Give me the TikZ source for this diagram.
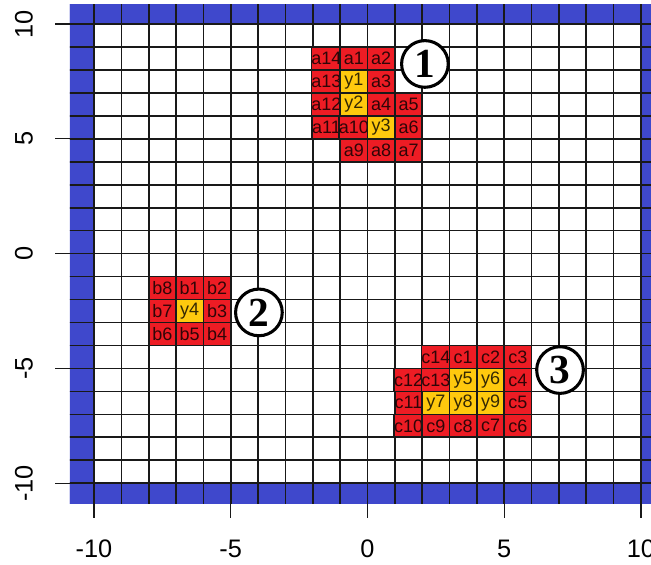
\documentclass[tikz,border=0pt]{standalone}
\usepackage{fontspec}
\setmainfont{Liberation Sans}
\newfontfamily\zonefont{Liberation Serif}
\usepackage{tikz}
\usetikzlibrary{positioning}
\definecolor{mapblue}{HTML}{3F48CC}
\definecolor{mapred}{HTML}{ED1C24}
\definecolor{mapgold}{HTML}{FFC90E}
\tikzset{
  gridline/.style={draw=black!90,line width=1.25pt},
  wall/.style={fill=mapblue},
  cell/.style={draw=black!90,line width=1.25pt,fill=mapred,inner sep=0pt,minimum width=20.51pt,minimum height=17.22pt,font=\fontsize{13.5}{13.5}\selectfont,text=black,text opacity=0.8},
  goal/.style={cell,fill=mapgold},
  zone/.style={circle,draw=black,line width=2.3pt,fill=white,inner sep=0pt,minimum size=35pt,font=\zonefont\bfseries\fontsize{31}{31}\selectfont},
  axtick/.style={draw=black!90,line width=0.9pt},
  ticklab/.style={inner sep=0pt,font=\fontsize{19}{19}\selectfont},
}
\begin{document}
\begin{tikzpicture}[x=20.51pt,y=17.22pt]
  \useasboundingbox (-13.437,-13.56) rectangle (10.366,11.045);
  % map area
  \begin{scope}
    \clip (-10.88,-10.87) rectangle (10.88,10.83);
    \foreach \k in {-11,...,10} {
      \fill[wall] (-11,\k) rectangle ++(1,1);
      \fill[wall] (10,\k) rectangle ++(1,1);
      \fill[wall] (\k,-11) rectangle ++(1,1);
      \fill[wall] (\k,10) rectangle ++(1,1);
    }
    \foreach \k in {-11,...,11} {
      \draw[gridline] (\k,-11) -- (\k,11);
      \draw[gridline] (-11,\k) -- (11,\k);
    }
  \end{scope}
  % region 1
  \foreach \i/\j/\lab in {-2/8/a14,-1/8/a1,0/8/a2,-2/7/a13,0/7/a3,-2/6/a12,0/6/a4,1/6/a5,
      -2/5/a11,-1/5/a10,1/5/a6,-1/4/a9,0/4/a8,1/4/a7}
    \node[cell] (\lab) at (\i+0.5,\j+0.5) {\lab};
  \foreach \i/\j/\lab in {-1/7/y1,-1/6/y2,0/5/y3}
    \node[goal] (\lab) at (\i+0.5,\j+0.5) {\lab};
  % region 2
  \foreach \i/\j/\lab in {-8/-2/b8,-7/-2/b1,-6/-2/b2,-8/-3/b7,-6/-3/b3,-8/-4/b6,-7/-4/b5,-6/-4/b4}
    \node[cell] (\lab) at (\i+0.5,\j+0.5) {\lab};
  \node[goal] (y4) at (-6.5,-2.5) {y4};
  % region 3
  \foreach \i/\j/\lab in {2/-5/c14,3/-5/c1,4/-5/c2,5/-5/c3,1/-6/c12,2/-6/c13,5/-6/c4,
      1/-7/c11,5/-7/c5,1/-8/c10,2/-8/c9,3/-8/c8,4/-8/c7,5/-8/c6}
    \node[cell] (\lab) at (\i+0.5,\j+0.5) {\lab};
  \foreach \i/\j/\lab in {3/-6/y5,4/-6/y6,2/-7/y7,3/-7/y8,4/-7/y9}
    \node[goal] (\lab) at (\i+0.5,\j+0.5) {\lab};
  \node[zone] (zone1) at (2.10,8.26) {1};
  \node[zone] (zone2) at (-3.97,-2.56) {2};
  \node[zone] (zone3) at (7.04,-5.07) {3};
  % axes
  \foreach \v in {-10,-5,0,5,10} {
    \draw[axtick] (\v,-10.87) -- (\v,-11.52);
    \node[ticklab] (xl\v) at (\v,-12.86) {\v};
    \draw[axtick] (-10.88,\v) -- (-11.43,\v);
    \node[ticklab,rotate=90] (yl\v) at (-12.56,\v) {\v};
  }
\end{tikzpicture}
\end{document}
